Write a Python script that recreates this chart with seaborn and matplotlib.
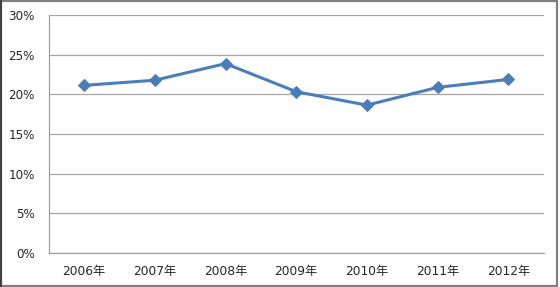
import matplotlib
matplotlib.use("Agg")
import matplotlib.pyplot as plt
import seaborn as sns
import pandas as pd
from matplotlib.ticker import FuncFormatter, FixedLocator
from matplotlib.patches import Rectangle

years = ["2006年", "2007年", "2008年", "2009年", "2010年", "2011年", "2012年"]
values = [21.15, 21.8, 23.9, 20.35, 18.65, 20.9, 21.9]
y_ticks = [0, 5, 10, 15, 20, 25, 30]

sns.set_theme(style="white")
plt.rcParams['font.family'] = ['DejaVu Sans', 'Noto Sans CJK SC']

df = pd.DataFrame({"year": years, "value": values, "pos": range(len(years))})

fig = plt.figure(figsize=(5.6, 2.87), dpi=100)
ax = fig.add_axes([0.087, 0.1195, 0.884, 0.827])

sns.lineplot(data=df, x="pos", y="value", ax=ax, color="#4a7ebb", linewidth=2.2,
             marker="D", markersize=6.5, markeredgecolor="#4a7ebb", markerfacecolor="#4a7ebb")

ax.set_xlim(-0.5, len(years) - 0.5)
ax.set_ylim(0, 30)
ax.set_yticks(y_ticks)
ax.yaxis.set_major_formatter(FuncFormatter(lambda v, p: f"{int(v)}%"))
ax.set_xticks(range(len(years)))
ax.set_xticklabels(years)
ax.xaxis.set_minor_locator(FixedLocator([i - 0.5 for i in range(len(years) + 1)]))
ax.tick_params(axis="x", which="major", length=0, pad=9, labelsize=8.8, colors="#262626")
ax.tick_params(axis="x", which="minor", length=4, width=0.8, color="#999999", direction="out")
ax.tick_params(axis="y", which="major", length=4, width=0.8, color="#999999", pad=6,
               labelsize=8.6, labelcolor="#262626", direction="out")

ax.set_xlabel("")
ax.set_ylabel("")
ax.grid(axis="y", color="#a6a6a6", linewidth=0.9)
ax.set_axisbelow(True)
for s in ["top", "right"]:
    ax.spines[s].set_visible(False)
for s in ["left", "bottom"]:
    ax.spines[s].set_color("#a0a0a0")
    ax.spines[s].set_linewidth(0.9)

# outer chart frame
fig.patches.append(Rectangle((0.0015, 0.004), 0.994, 0.993, transform=fig.transFigure,
                             fill=False, edgecolor="#808080", linewidth=1.6))
fig.patches.append(Rectangle((0.0, 0.0), 0.004, 1.0, transform=fig.transFigure,
                             fill=True, facecolor="#404040", edgecolor="none"))

fig.savefig("out.png", dpi=100)
